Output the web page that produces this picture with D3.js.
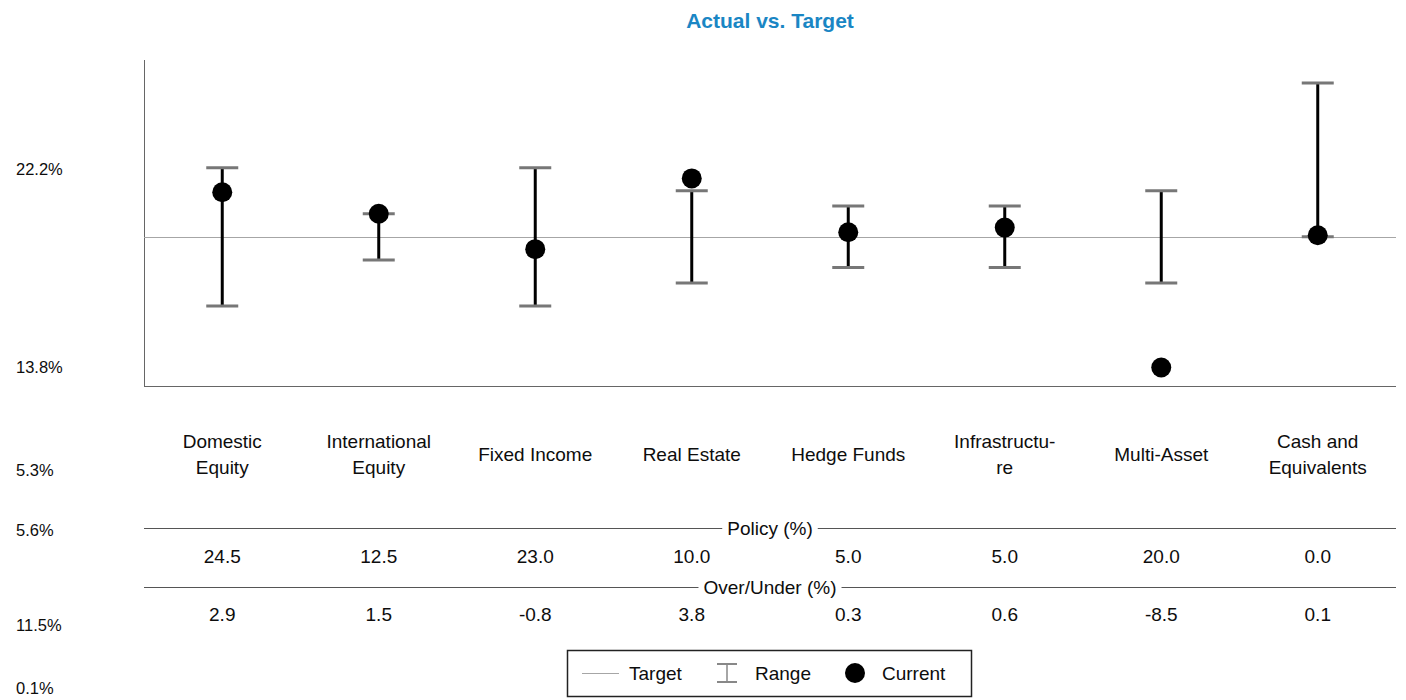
<!DOCTYPE html>
<html>
<head>
<meta charset="utf-8">
<script src="https://cdn.jsdelivr.net/npm/d3@7"></script>
<style>
  body { margin: 0; background: #fff; }
  svg { display: block; font-family: "Liberation Sans", Arial, sans-serif; }
</style>
</head>
<body>
<svg id="chart" width="1406" height="700"></svg>
<script>
// ---- data ----
const categories = ["Domestic Equity", "International Equity", "Fixed Income", "Real Estate",
  "Hedge Funds", "Infrastructure", "Multi-Asset", "Cash and Equivalents"];
const categoryLines = [["Domestic", "Equity"], ["International", "Equity"], ["Fixed Income"], ["Real Estate"],
  ["Hedge Funds"], ["Infrastructu-", "re"], ["Multi-Asset"], ["Cash and", "Equivalents"]];
const policy = [24.5, 12.5, 23.0, 10.0, 5.0, 5.0, 20.0, 0.0];
const overUnder = [2.9, 1.5, -0.8, 3.8, 0.3, 0.6, -8.5, 0.1];
const rangeLow = [-4.5, -1.5, -4.5, -3.0, -2.0, -2.0, -3.0, 0.0];
const rangeHigh = [4.5, 1.5, 4.5, 3.0, 2.0, 2.0, 3.0, 10.0];
const sideLabels = ["22.2%", "13.8%", "5.3%", "5.6%", "11.5%", "0.1%"];
const yDomain = [-9.7, 11.5];

// ---- layout ----
(function () {
const svg = d3.select("#chart");
const mLeft = 144, mRight = 1396, mTop = 60, mBottom = 386;
const x = d3.scaleBand().domain(categories).range([mLeft, mRight]);
const y = d3.scaleLinear().domain(yDomain).range([mBottom, mTop]);
const cx = c => x(c) + x.bandwidth() / 2;
const midX = (mLeft + mRight) / 2;
const fmt = v => d3.format(".1f")(v).replace("\u2212", "-");
const textColor = "#0d0d0d";

// title
svg.append("text").attr("x", midX).attr("y", 28)
  .attr("text-anchor", "middle").attr("font-size", 21).attr("font-weight", "bold")
  .attr("fill", "#1a86c4").text("Actual vs. Target");

// side labels
const sideY = [169, 367, 470, 530, 625, 688];
svg.selectAll("text.side").data(sideLabels).join("text").attr("class", "side")
  .attr("x", 16).attr("y", (d, i) => sideY[i]).attr("dy", "0.35em")
  .attr("font-size", 16.5).attr("fill", textColor).text(d => d);

// axes lines
svg.append("line").attr("x1", mLeft + 0.5).attr("x2", mLeft + 0.5).attr("y1", mTop).attr("y2", mBottom)
  .attr("stroke", "#666").attr("stroke-width", 1);
svg.append("line").attr("x1", mLeft).attr("x2", mRight).attr("y1", mBottom + 0.5).attr("y2", mBottom + 0.5)
  .attr("stroke", "#666").attr("stroke-width", 1);

// target line
const ty = Math.round(y(0)) + 0.5;
svg.append("line").attr("x1", mLeft).attr("x2", mRight).attr("y1", ty).attr("y2", ty)
  .attr("stroke", "#a6a6a6").attr("stroke-width", 1);

// range bars
const g = svg.append("g");
categories.forEach((c, i) => {
  const xc = cx(c);
  g.append("line").attr("x1", xc).attr("x2", xc).attr("y1", y(rangeHigh[i])).attr("y2", y(rangeLow[i]))
    .attr("stroke", "#000").attr("stroke-width", 3);
  [rangeHigh[i], rangeLow[i]].forEach(v => {
    g.append("line").attr("x1", xc - 16).attr("x2", xc + 16).attr("y1", y(v)).attr("y2", y(v))
      .attr("stroke", "#777").attr("stroke-width", 3);
  });
});
// current dots
svg.selectAll("circle.cur").data(categories).join("circle").attr("class", "cur")
  .attr("cx", c => cx(c)).attr("cy", (c, i) => y(overUnder[i])).attr("r", 10).attr("fill", "#000");

// category labels
categories.forEach((c, i) => {
  const lines = categoryLines[i];
  const t = svg.append("text").attr("text-anchor", "middle").attr("font-size", 19).attr("fill", textColor);
  const startY = lines.length === 2 ? 441 : 454;
  lines.forEach((l, j) => {
    t.append("tspan").attr("x", cx(c)).attr("y", startY + j * 26).attr("dy", "0.35em").text(l);
  });
});

// table section headers
function header(yy, label) {
  svg.append("line").attr("x1", mLeft).attr("x2", mRight).attr("y1", yy + 0.5).attr("y2", yy + 0.5)
    .attr("stroke", "#555").attr("stroke-width", 1);
  const t = svg.append("text").attr("x", midX).attr("y", yy).attr("dy", "0.35em")
    .attr("text-anchor", "middle").attr("font-size", 19).attr("fill", textColor).text(label);
  const bb = t.node().getBBox();
  svg.insert("rect", () => t.node()).attr("x", bb.x - 5).attr("y", bb.y).attr("width", bb.width + 10)
    .attr("height", bb.height).attr("fill", "#fff");
}
header(528, "Policy (%)");
header(587, "Over/Under (%)");

svg.selectAll("text.pol").data(categories).join("text").attr("class", "pol")
  .attr("x", c => cx(c)).attr("y", 556).attr("dy", "0.35em").attr("text-anchor", "middle")
  .attr("font-size", 19).attr("fill", textColor).text((c, i) => fmt(policy[i]));
svg.selectAll("text.ou").data(categories).join("text").attr("class", "ou")
  .attr("x", c => cx(c)).attr("y", 614).attr("dy", "0.35em").attr("text-anchor", "middle")
  .attr("font-size", 19).attr("fill", textColor).text((c, i) => fmt(overUnder[i]));

// legend
const lg = svg.append("g");
lg.append("rect").attr("x", 567.5).attr("y", 650.5).attr("width", 404).attr("height", 46)
  .attr("fill", "#fff").attr("stroke", "#222").attr("stroke-width", 1.5);
const ly = 673;
lg.append("line").attr("x1", 582).attr("x2", 619).attr("y1", ly + 0.5).attr("y2", ly + 0.5)
  .attr("stroke", "#a6a6a6").attr("stroke-width", 1);
lg.append("text").attr("x", 629).attr("y", ly).attr("dy", "0.35em").attr("font-size", 19).attr("fill", textColor).text("Target");
lg.append("line").attr("x1", 727).attr("x2", 727).attr("y1", ly - 9).attr("y2", ly + 9).attr("stroke", "#888").attr("stroke-width", 1.5);
lg.append("line").attr("x1", 717).attr("x2", 737).attr("y1", ly - 9).attr("y2", ly - 9).attr("stroke", "#888").attr("stroke-width", 2);
lg.append("line").attr("x1", 717).attr("x2", 737).attr("y1", ly + 9).attr("y2", ly + 9).attr("stroke", "#888").attr("stroke-width", 2);
lg.append("text").attr("x", 755).attr("y", ly).attr("dy", "0.35em").attr("font-size", 19).attr("fill", textColor).text("Range");
lg.append("circle").attr("cx", 855).attr("cy", ly).attr("r", 10).attr("fill", "#000");
lg.append("text").attr("x", 882).attr("y", ly).attr("dy", "0.35em").attr("font-size", 19).attr("fill", textColor).text("Current");
})();
</script>
</body>
</html>
